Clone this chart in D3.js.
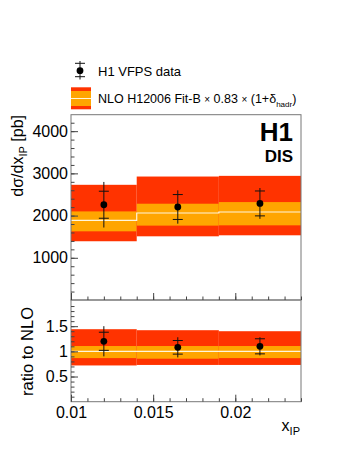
<!DOCTYPE html>
<html>
<head>
<meta charset="utf-8">
<script src="https://cdn.jsdelivr.net/npm/d3@7"></script>
<style>
  body { margin: 0; background: #fff; }
  svg text { font-family: "Liberation Sans", Arial, Helvetica, sans-serif; fill: #000; }
</style>
</head>
<body>
<div id="chart"></div>
<script>
// bins in x_IP
var binLo = [0.010, 0.014, 0.019];
var binHi = [0.014, 0.019, 0.024];
var xCentre = [0.012, 0.0165, 0.0215];

// H1 VFPS data, dsigma/dxIP [pb]
var sigma = [2257, 2203, 2288];
var sigmaStat = [320, 295, 295];
var sigmaTot = [540, 395, 365];

// NLO prediction bands
var nloCentral = [1887, 2061, 2085];
var nloInnerLo = [1627, 1762, 1769];
var nloInnerHi = [2099, 2281, 2320];
var nloOuterLo = [1392, 1509, 1533];
var nloOuterHi = [2729, 2925, 2941];

// ratio panel
var ratio = [1.20, 1.08, 1.10];
var ratioStat = [0.18, 0.135, 0.15];
var ratioTot = [0.30, 0.20, 0.18];
var ratioInnerLo = [0.866, 0.854, 0.866];
var ratioInnerHi = [1.106, 1.106, 1.106];
var ratioOuterLo = [0.72, 0.73, 0.73];
var ratioOuterHi = [1.44, 1.42, 1.40];

var xTicks = [0.01, 0.015, 0.02];
var yTicksTop = [1000, 2000, 3000, 4000];
var yTicksBottom = [0.5, 1, 1.5];

var RED = "#ff3300", ORANGE = "#ffa500", CREAM = "#fff6dc";

var W = 349, H = 451;
var left = 71, right = 301, top1 = 114.7, bot1 = 300, bot2 = 401.7;

var svg = d3.select("#chart").append("svg")
    .attr("width", W).attr("height", H);

var x = d3.scaleLinear().domain([0.01, 0.024]).range([left, right]);
var yTop = d3.scaleLinear().domain([0, 4390]).range([bot1, top1]);
var yBot = d3.scaleLinear().domain([0, 2.02]).range([bot2, bot1]);

function drawBands(y, oLo, oHi, iLo, iHi, cen) {
    var g = svg.append("g");
    binLo.forEach(function (lo, i) {
        g.append("rect").attr("fill", RED)
            .attr("x", x(lo)).attr("width", x(binHi[i]) - x(lo))
            .attr("y", y(oHi[i])).attr("height", y(oLo[i]) - y(oHi[i]));
        g.append("rect").attr("fill", ORANGE)
            .attr("x", x(lo)).attr("width", x(binHi[i]) - x(lo))
            .attr("y", y(iHi[i])).attr("height", y(iLo[i]) - y(iHi[i]));
    });
    // central line as a step
    var pts = [];
    binLo.forEach(function (lo, i) {
        pts.push([x(lo), y(cen[i])]);
        pts.push([x(binHi[i]), y(cen[i])]);
    });
    g.append("path").attr("d", d3.line()(pts))
        .attr("fill", "none").attr("stroke", CREAM).attr("stroke-width", 1.2);
}

function drawPoints(y, val, stat, tot) {
    var g = svg.append("g");
    val.forEach(function (v, i) {
        var cx = x(xCentre[i]);
        g.append("line").attr("x1", cx).attr("x2", cx)
            .attr("y1", y(v + tot[i])).attr("y2", y(v - tot[i]))
            .attr("stroke", "#111").attr("stroke-width", 1);
        [v + stat[i], v - stat[i]].forEach(function (s) {
            g.append("line").attr("x1", cx - 5).attr("x2", cx + 5)
                .attr("y1", y(s)).attr("y2", y(s))
                .attr("stroke", "#111").attr("stroke-width", 1);
        });
        g.append("circle").attr("cx", cx).attr("cy", y(v)).attr("r", 3.4).attr("fill", "#000");
    });
}

drawBands(yTop, nloOuterLo, nloOuterHi, nloInnerLo, nloInnerHi, nloCentral);
drawBands(yBot, ratioOuterLo, ratioOuterHi, ratioInnerLo, ratioInnerHi, [1, 1, 1]);
drawPoints(yTop, sigma, sigmaStat, sigmaTot);
drawPoints(yBot, ratio, ratioStat, ratioTot);

// frames
[[top1, bot1], [bot1, bot2]].forEach(function (p) {
    svg.append("rect").attr("x", left).attr("y", p[0])
        .attr("width", right - left).attr("height", p[1] - p[0])
        .attr("fill", "none").attr("stroke", "#777").attr("stroke-width", 1);
});

// y axes
function yAxis(y, major, minor, fmt) {
    var g = svg.append("g").attr("transform", "translate(" + left + ",0)");
    g.call(d3.axisRight(y).tickValues(minor).tickSize(3.5).tickFormat(""))
        .call(function (s) { s.select(".domain").remove(); });
    var g2 = svg.append("g").attr("transform", "translate(" + left + ",0)");
    g2.call(d3.axisRight(y).tickValues(major).tickSize(7).tickFormat(""))
        .call(function (s) { s.select(".domain").remove(); });
    var g3 = svg.append("g").attr("transform", "translate(" + left + ",0)");
    g3.call(d3.axisLeft(y).tickValues(major).tickSize(0).tickPadding(3).tickFormat(fmt))
        .call(function (s) { s.select(".domain").remove(); });
    g3.selectAll("text").style("font-size", "16px");
    svg.selectAll(".tick line").attr("stroke", "#444");
}
yAxis(yTop, yTicksTop, d3.range(200, 4390, 200), d3.format("d"));
yAxis(yBot, yTicksBottom, d3.range(0.1, 2.0, 0.1), function (d) { return String(d); });

// x axes (ticks on the bottom of both panels)
[bot1, bot2].forEach(function (yb, k) {
    svg.append("g").attr("transform", "translate(0," + yb + ")")
        .call(d3.axisTop(x).tickValues(d3.range(0.011, 0.0241, 0.001)).tickSize(3.5).tickFormat(""))
        .call(function (s) { s.select(".domain").remove(); s.selectAll("line").attr("stroke", "#444"); });
    svg.append("g").attr("transform", "translate(0," + yb + ")")
        .call(d3.axisTop(x).tickValues(xTicks).tickSize(7).tickFormat(""))
        .call(function (s) { s.select(".domain").remove(); s.selectAll("line").attr("stroke", "#444"); });
});
var xl = svg.append("g").attr("transform", "translate(0," + bot2 + ")")
    .call(d3.axisBottom(x).tickValues(xTicks).tickSize(0).tickPadding(5).tickFormat(d3.format("~g")))
    .call(function (s) { s.select(".domain").remove(); });
xl.selectAll("text").style("font-size", "16px");

// axis titles
var xt = svg.append("text").attr("x", 300).attr("y", 431).attr("text-anchor", "end").style("font-size", "16px");
xt.append("tspan").text("x");
xt.append("tspan").attr("dy", 4).style("font-size", "11px").text("IP");

var yt = svg.append("text").attr("transform", "translate(23,115) rotate(-90)")
    .attr("text-anchor", "end").style("font-size", "16px");
yt.append("tspan").text("dσ/dx");
yt.append("tspan").attr("dy", 4).style("font-size", "11px").text("IP");
yt.append("tspan").attr("dy", -4).text(" [pb]");

svg.append("text").attr("transform", "translate(33,307) rotate(-90)")
    .attr("text-anchor", "end").style("font-size", "16.5px").text("ratio to NLO");

// H1 DIS label
svg.append("text").attr("x", 293).attr("y", 141).attr("text-anchor", "end")
    .style("font-size", "26px").style("font-weight", "bold").text("H1");
svg.append("text").attr("x", 293).attr("y", 161.5).attr("text-anchor", "end")
    .style("font-size", "17px").style("font-weight", "bold").text("DIS");

// legend
var lg = svg.append("g");
lg.append("line").attr("x1", 80).attr("x2", 80).attr("y1", 61).attr("y2", 79.5).attr("stroke", "#111");
[63.3, 76.7].forEach(function (yy) {
    lg.append("line").attr("x1", 75).attr("x2", 85).attr("y1", yy).attr("y2", yy).attr("stroke", "#111");
});
lg.append("circle").attr("cx", 80).attr("cy", 70.7).attr("r", 3.4).attr("fill", "#000");
lg.append("text").attr("x", 98).attr("y", 75.5).style("font-size", "13px").text("H1 VFPS data");

lg.append("rect").attr("x", 71).attr("y", 87.3).attr("width", 20).attr("height", 22).attr("fill", RED);
lg.append("rect").attr("x", 71).attr("y", 91).attr("width", 20).attr("height", 15).attr("fill", ORANGE);
lg.append("line").attr("x1", 71).attr("x2", 91).attr("y1", 98.5).attr("y2", 98.5).attr("stroke", CREAM).attr("stroke-width", 1);
var lt = lg.append("text").attr("x", 98).attr("y", 102.5).style("font-size", "12.5px");
lt.append("tspan").text("NLO H12006 Fit-B ");
lt.append("tspan").style("font-size", "10px").text("\u00d7");
lt.append("tspan").text(" 0.83 ");
lt.append("tspan").style("font-size", "10px").text("\u00d7");
lt.append("tspan").text(" (1+\u03b4");
lt.append("tspan").attr("dy", 4).style("font-size", "8px").text("hadr");
lt.append("tspan").attr("dy", -4).text(")");
</script>
</body>
</html>
